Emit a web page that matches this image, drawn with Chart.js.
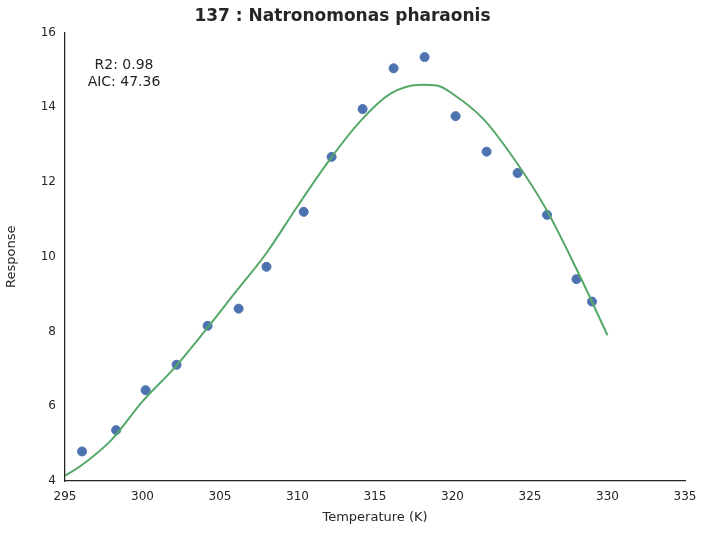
<!DOCTYPE html>
<html><head><meta charset="utf-8">
<script src="https://cdn.jsdelivr.net/npm/chart.js@4"></script>
<style>body{margin:0;background:#fff}#w{width:706px;height:533px}</style>
</head><body><div id="w"><canvas id="c"></canvas></div>
<script>
const obsX=[296.1,298.3,300.2,302.2,304.2,306.2,308.0,310.4,312.2,314.2,316.2,318.2,320.2,322.2,324.2,326.1,328.0,329.0];
const obsY=[4.79,5.36,6.43,7.11,8.15,8.61,9.73,11.2,12.67,13.95,15.04,15.34,13.76,12.81,12.24,11.12,9.4,8.8];
const fitX=[295,296,298,300,302,304,306,308,310,312,314,316,318,319,320,322,324,326,328,330];
const fitY=[4.14,4.4,5.1,6.13,7.0,8.0,9.05,10.1,11.35,12.55,13.6,14.36,14.6,14.58,14.36,13.68,12.6,11.3,9.67,7.9];
const xTicks=[295,300,305,310,315,320,325,330,335];
const yTicks=[4,6,8,10,12,14,16];
const notes=['R2: 0.98','AIC: 47.36'];
const F='"DejaVu Sans", sans-serif';
const annot={id:'annot',afterDraw(ch){const c=ch.ctx;c.save();c.font='14px '+F;c.fillStyle='#262626';c.textAlign='center';c.textBaseline='middle';
 const x=ch.scales.x.getPixelForValue(299);c.fillText(notes[0],x-3,65);c.fillText(notes[1],x-3,82);c.restore();}};
new Chart(document.getElementById('c'),{
 data:{datasets:[
  {type:'line',data:fitX.map((x,i)=>({x,y:fitY[i]})),borderColor:'#55a868',borderWidth:2,pointRadius:0,tension:0.4,cubicInterpolationMode:'monotone'},
  {type:'scatter',data:obsX.map((x,i)=>({x,y:obsY[i]})),backgroundColor:'#4c72b0',borderColor:'#4c72b0',pointRadius:4.5}
 ]},
 options:{responsive:true,maintainAspectRatio:false,animation:false,
  layout:{padding:{left:0,right:21,top:0,bottom:4}},
  plugins:{legend:{display:false},tooltip:{enabled:false},
   title:{display:true,text:'137 : Natronomonas pharaonis',font:{family:F,size:17,weight:'bold'},color:'#262626',padding:{top:6,bottom:6}}},
  scales:{
   x:{type:'linear',min:295,max:335,afterBuildTicks:s=>{s.ticks=xTicks.map(v=>({value:v}))},
    grid:{display:false,drawTicks:true,tickLength:6,tickColor:'#262626'},border:{color:'#262626',width:1.3},
    ticks:{color:'#262626',font:{family:F,size:12},maxRotation:0},
    title:{display:true,text:'Temperature (K)',color:'#262626',font:{family:F,size:13},padding:{top:2}}},
   y:{min:4,max:16,afterBuildTicks:s=>{s.ticks=yTicks.map(v=>({value:v}))},afterFit:s=>{s.width=65},
    grid:{display:false,tickLength:6,tickColor:'#262626'},border:{color:'#262626',width:1.3},
    ticks:{color:'#262626',font:{family:F,size:12}},
    title:{display:true,text:'Response',color:'#262626',font:{family:F,size:13}}}
  }},
 plugins:[annot]});
</script></body></html>
